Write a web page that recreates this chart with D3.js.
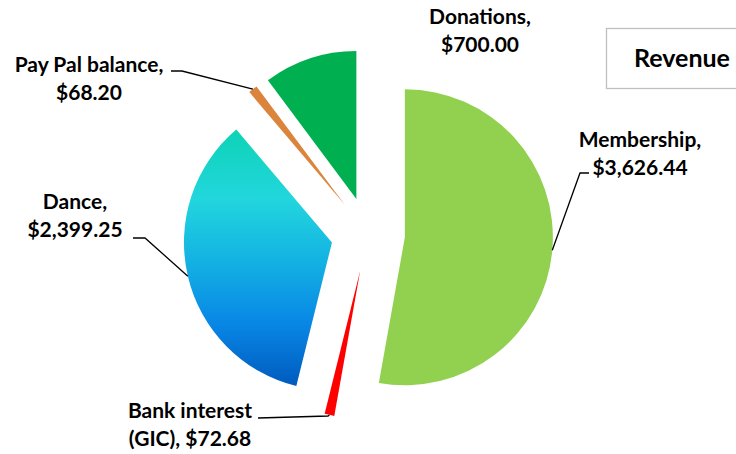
<!DOCTYPE html>
<html>
<head>
<meta charset="utf-8">
<script src="https://cdn.jsdelivr.net/npm/d3@7.9.0/dist/d3.min.js"></script>
<style>
  html, body { margin: 0; padding: 0; background: #fff; }
  svg text { font-family: Lato, "Open Sans", sans-serif; font-weight: 700; fill: #000; }
</style>
</head>
<body>
<div id="chart"></div>
<script>
// Data
const categories = ["Membership", "Bank interest (GIC)", "Dance", "Pay Pal balance", "Donations"];
const values = [3626.44, 72.68, 2399.25, 68.20, 700.00];
const labelLines = [
  ["Membership,", "$3,626.44"],
  ["Bank interest", "(GIC), $72.68"],
  ["Dance,", "$2,399.25"],
  ["Pay Pal balance,", "$68.20"],
  ["Donations,", "$700.00"]
];
const colors = ["#92D050", "#FF0000", "url(#danceGrad)", "#DA843C", "#00B050"];
const title = "Revenue";

// layout
const width = 736, height = 454;
const cx = 368, cy = 234;
const radius = 148;
const explode = 37;

// label placement: text centre, first baseline, and leader elbow/end (null = no leader)
const labelLayout = [
  { x: 640, y: 147, elbow: [580, 173], end: [589, 173] },
  { x: 190, y: 418, elbow: [328, 416], end: [258, 418] },
  { x: 75, y: 209, elbow: [145, 238], end: [133, 238] },
  { x: 89, y: 72, elbow: [182, 71], end: [171, 71] },
  { x: 480, y: 24, elbow: null, end: null }
];

const svg = d3.select("#chart")
  .append("svg")
  .attr("width", width)
  .attr("height", height);

// gradient for the Dance slice (top to bottom of the slice's box)
const defs = svg.append("defs");
const grad = defs.append("linearGradient")
  .attr("id", "danceGrad")
  .attr("x1", 0).attr("x2", 0)
  .attr("y1", 0).attr("y2", 1);
[[0, "#0DD3B6"], [0.27, "#22D6DD"], [0.5, "#14B4E2"], [0.75, "#0888E6"], [1, "#005BBE"]]
  .forEach(s => grad.append("stop").attr("offset", s[0]).attr("stop-color", s[1]));

const pie = d3.pie().sort(null).value(d => d);
const arcs = pie(values);

const arc = d3.arc().innerRadius(0).outerRadius(radius);

const g = svg.append("g").attr("transform", `translate(${cx},${cy})`);

function offset(d) {
  const a = (d.startAngle + d.endAngle) / 2;
  return [Math.sin(a) * explode, -Math.cos(a) * explode];
}

g.selectAll("path.slice")
  .data(arcs)
  .enter()
  .append("path")
  .attr("class", "slice")
  .attr("d", arc)
  .attr("transform", d => {
    const [dx, dy] = offset(d);
    return `translate(${dx},${dy})`;
  })
  .attr("fill", (d, i) => colors[i]);

// leader lines, from the outer arc at the mid angle
arcs.forEach((d, i) => {
  const lay = labelLayout[i];
  if (!lay.elbow) return;
  const a = (d.startAngle + d.endAngle) / 2;
  const [dx, dy] = offset(d);
  const px = cx + dx + Math.sin(a) * radius;
  const py = cy + dy - Math.cos(a) * radius;
  svg.append("polyline")
    .attr("points", [[px, py], lay.elbow, lay.end].map(p => p.join(",")).join(" "))
    .attr("fill", "none")
    .attr("stroke", "#000")
    .attr("stroke-width", 1.3);
});

// labels
labelLines.forEach((lines, i) => {
  const lay = labelLayout[i];
  const t = svg.append("text")
    .attr("text-anchor", "middle")
    .style("font-size", "21px");
  lines.forEach((line, j) => {
    t.append("tspan")
      .attr("x", lay.x)
      .attr("y", lay.y + j * 28)
      .text(line);
  });
});

// title box
svg.append("rect")
  .attr("x", 606.5).attr("y", 28.5)
  .attr("width", 160).attr("height", 60)
  .attr("fill", "#fff")
  .attr("stroke", "#BFBFBF")
  .attr("stroke-width", 1.3);
svg.append("text")
  .attr("x", 634).attr("y", 67)
  .style("font-size", "25px")
  .text(title);
</script>
</body>
</html>
